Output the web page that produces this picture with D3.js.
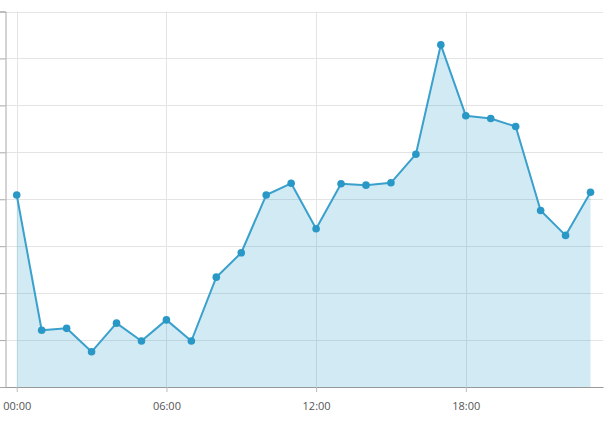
<!DOCTYPE html>
<html>
<head>
<meta charset="utf-8">
<script src="https://cdn.jsdelivr.net/npm/d3@7"></script>
<style>
  html, body { margin: 0; padding: 0; background: #fff; }
  svg { display: block; }
</style>
</head>
<body>
<svg id="chart" width="613" height="421"></svg>
<script>
const hours = [0,1,2,3,4,5,6,7,8,9,10,11,12,13,14,15,16,17,18,19,20,21,22,23];
const values = [40.9,12.1,12.5,7.5,13.6,9.8,14.3,9.8,23.4,28.6,40.9,43.4,33.7,43.3,43.0,43.5,49.6,72.9,57.8,57.2,55.5,37.6,32.3,41.5];
const xTicks = [0,6,12,18];
const xTickLabels = ["00:00","06:00","12:00","18:00"];
const yTicks = [0,10,20,30,40,50,60,70,80];

(function () {
const svg = d3.select("#chart");
const plotLeft = 5.5, plotRight = 603, plotTop = 11.5, plotBottom = 387;

const x = d3.scaleLinear().domain([-0.45, 23.5]).range([plotLeft, plotRight]);
const y = d3.scaleLinear().domain([0, 80]).range([plotBottom, plotTop]);

// horizontal gridlines
svg.append("g").selectAll("line").data(yTicks.slice(1)).join("line")
  .attr("x1", plotLeft).attr("x2", plotRight)
  .attr("y1", d => Math.round(y(d)) + 0.5).attr("y2", d => Math.round(y(d)) + 0.5)
  .attr("stroke", "#e4e4e4").attr("stroke-width", 1);

// vertical gridlines
svg.append("g").selectAll("line").data(xTicks).join("line")
  .attr("x1", d => Math.round(x(d)) + 0.5).attr("x2", d => Math.round(x(d)) + 0.5)
  .attr("y1", plotTop).attr("y2", plotBottom)
  .attr("stroke", "#e4e4e4").attr("stroke-width", 1);

const data = hours.map((h, i) => ({h, v: values[i]}));

// area
svg.append("path").datum(data)
  .attr("d", d3.area().x(d => x(d.h)).y0(y(0)).y1(d => y(d.v)))
  .attr("fill", "rgb(44,154,201)").attr("fill-opacity", 0.21);

// y axis
const yAxis = svg.append("g").attr("transform", `translate(${plotLeft},0)`)
  .call(d3.axisLeft(y).tickValues(yTicks).tickSize(6).tickFormat(""));
yAxis.select(".domain").attr("stroke", "#a8a8a8");
yAxis.selectAll(".tick line").attr("stroke", "#a8a8a8");

// x axis
const xAxis = svg.append("g").attr("transform", `translate(0,${plotBottom})`)
  .call(d3.axisBottom(x).tickValues(xTicks).tickSize(5).tickSizeOuter(0)
    .tickFormat((d, i) => xTickLabels[i]));
xAxis.select(".domain").attr("stroke", "#999");
xAxis.selectAll(".tick line").attr("stroke", "#bbb");
xAxis.selectAll(".tick text")
  .attr("font-family", "'Open Sans', 'Noto Sans', sans-serif")
  .attr("font-size", 11).attr("fill", "#555").attr("dy", "1.35em");

// line
svg.append("path").datum(data)
  .attr("d", d3.line().x(d => x(d.h)).y(d => y(d.v)))
  .attr("fill", "none").attr("stroke", "#3aa0cc").attr("stroke-width", 2)
  .attr("stroke-linejoin", "round");

// points
svg.append("g").selectAll("circle").data(data).join("circle")
  .attr("cx", d => x(d.h)).attr("cy", d => y(d.v)).attr("r", 3.8)
  .attr("fill", "#2a98c7");
})();
</script>
</body>
</html>
